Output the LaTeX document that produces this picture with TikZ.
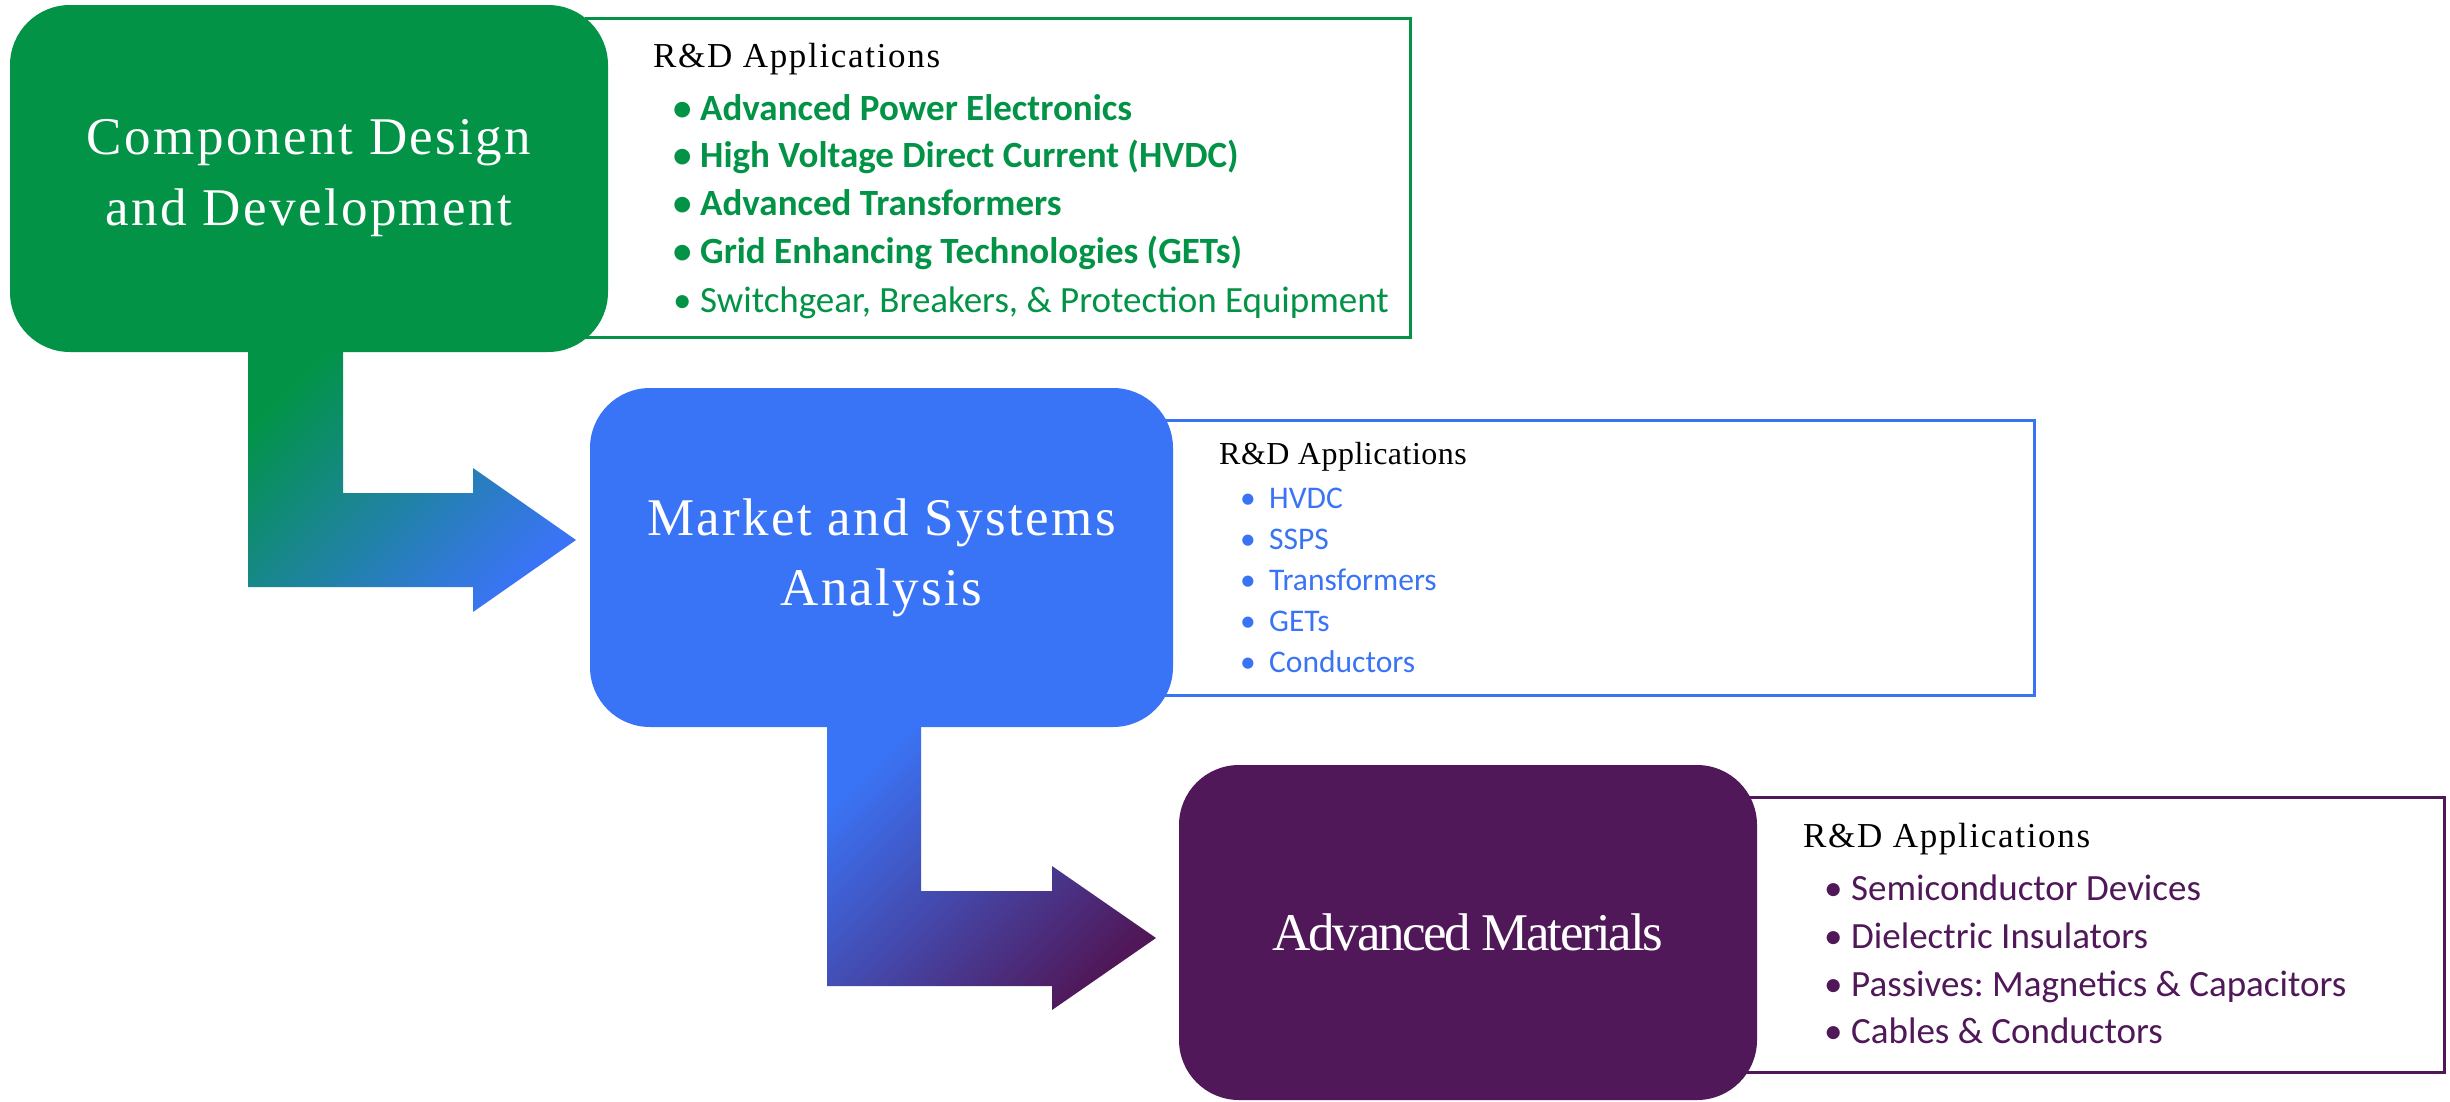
\documentclass[tikz,border=0pt]{standalone}
\usepackage{fontspec}
\setmainfont{Liberation Serif}
\newfontfamily\calfont{Carlito}
\newfontfamily\headfont[LetterSpace=4.8]{Liberation Serif}
\newfontfamily\headfontb[LetterSpace=1.5]{Liberation Serif}
\newfontfamily\titlefont[LetterSpace=4.5]{Liberation Serif}
\newfontfamily\titlefontc[LetterSpace=-4.5]{Liberation Serif}
\definecolor{cgreen}{RGB}{2,147,71}
\definecolor{cblue}{RGB}{58,116,246}
\definecolor{cpurple}{RGB}{80,24,89}
\newcommand{\itembul}[1]{\makebox[#1][l]{•}}
\frenchspacing
\begin{document}
\begin{tikzpicture}[x=1pt,y=-1pt,
  titlebox/.style={rounded corners=60pt, inner sep=0pt, align=center, text=white},
  listbox/.style={draw, line width=3pt, fill=white, inner sep=0pt},
  head/.style={anchor=base west, inner sep=0pt},
  item/.style={anchor=base west, inner sep=0pt},
]
\useasboundingbox (0,0) rectangle (2450,1101);
\fill[white] (0,0) rectangle (2450,1101);

% list boxes
\node[listbox, draw=cgreen, minimum width=824pt, minimum height=319pt] (gl) at (998,177.5) {};
\node[listbox, draw=cblue, minimum width=884pt, minimum height=275pt] (bl) at (1592,557.5) {};
\node[listbox, draw=cpurple, minimum width=704pt, minimum height=275pt] (pl) at (2092,934.5) {};

% block arrows
\shade[top color=cgreen, bottom color=cblue, shading angle=45]
  (248,340) -- (343,340) -- (343,493) -- (473,493) -- (473,468) -- (576,540)
  -- (473,612) -- (473,587) -- (248,587) -- cycle;
\shade[top color=cblue, bottom color=cpurple, shading angle=45]
  (827,715) -- (921,715) -- (921,891) -- (1052,891) -- (1052,866) -- (1156,938)
  -- (1052,1010) -- (1052,986) -- (827,986) -- cycle;

% title boxes
\node[titlebox, fill=cgreen, minimum width=598pt, minimum height=347pt,
  font=\titlefont\fontsize{53}{71}\selectfont] (gt) at (309,178.5) {Component Design\\and Development};
\node[titlebox, fill=cblue, minimum width=583pt, minimum height=339pt,
  font=\titlefont\fontsize{53}{70}\selectfont] (bt) at (881.5,557.5) {Market and Systems\\Analysis};
\node[titlebox, fill=cpurple, minimum width=578pt, minimum height=335pt,
  font=\titlefontc\fontsize{53}{60}\selectfont] (pt) at (1468,932.5) {Advanced Materials};

% green list
\node[head, font=\headfont\fontsize{35}{40}\selectfont] (gh) at (653,67) {R\&D Applications};
\begin{scope}[every node/.style={item, text=cgreen, font=\calfont\fontsize{37}{40}\selectfont}]
\node (g1) at (673,120) {\bfseries\itembul{27pt}Advanced Power Electronics};
\node (g2) at (673,167) {\bfseries\itembul{27pt}High Voltage Direct Current (HVDC)};
\node (g3) at (673,215) {\bfseries\itembul{27pt}Advanced Transformers};
\node (g4) at (673,263) {\bfseries\itembul{27pt}Grid Enhancing Technologies (GETs)};
\node (g5) at (673,312) {\itembul{27pt}Switchgear, Breakers, \& Protection Equipment};
\end{scope}

% blue list
\node[head, font=\headfontb\fontsize{32}{36}\selectfont] (bh) at (1219,464) {R\&D Applications};
\begin{scope}[every node/.style={item, text=cblue, font=\calfont\fontsize{31.5}{36}\selectfont}]
\node (b1) at (1240,508) {\itembul{29pt}HVDC};
\node (b2) at (1240,549) {\itembul{29pt}SSPS};
\node (b3) at (1240,590) {\itembul{29pt}Transformers};
\node (b4) at (1240,631) {\itembul{29pt}GETs};
\node (b5) at (1240,672) {\itembul{29pt}Conductors};
\end{scope}

% purple list
\node[head, font=\headfont\fontsize{35}{40}\selectfont] (ph) at (1803,847) {R\&D Applications};
\begin{scope}[every node/.style={item, text=cpurple, font=\calfont\fontsize{37}{40}\selectfont}]
\node (p1) at (1824,900) {\itembul{27pt}Semiconductor Devices};
\node (p2) at (1824,948) {\itembul{27pt}Dielectric Insulators};
\node (p3) at (1824,996) {\itembul{27pt}Passives: Magnetics \& Capacitors};
\node (p4) at (1824,1043) {\itembul{27pt}Cables \& Conductors};
\end{scope}
\end{tikzpicture}
\end{document}
